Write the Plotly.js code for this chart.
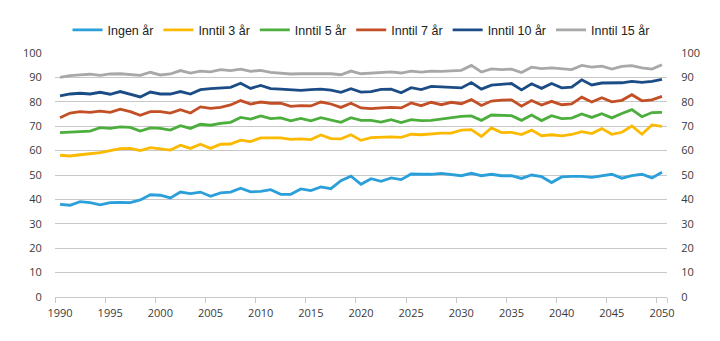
<!DOCTYPE html>
<html>
<head>
<meta charset="utf-8">
<script src="https://cdn.plot.ly/plotly-3.0.1.min.js"></script>
<style>html,body{margin:0;padding:0;background:#fff;}#chart{width:720px;height:341px;}</style>
</head>
<body>
<div id="chart"></div>
<script>
const years = [];
for (let y = 1990; y <= 2050; y++) years.push(y);

const seriesNames = ["Ingen år", "Inntil 3 år", "Inntil 5 år", "Inntil 7 år", "Inntil 10 år", "Inntil 15 år"];
const seriesColors = ["#2b9fd9", "#fbb900", "#4cae3c", "#c24f25", "#1b4c85", "#a8a8a8"];

const ingen = [38.0,37.6,39.1,38.7,37.8,38.7,38.8,38.7,39.8,41.9,
  41.7,40.6,43.0,42.4,43.0,41.3,42.7,43.0,44.6,43.1,
  43.3,44.0,42.1,42.1,44.3,43.6,45.1,44.4,47.7,49.5,
  46.2,48.5,47.4,48.8,48.1,50.4,50.3,50.3,50.7,50.1,
  49.7,50.7,49.7,50.3,49.7,49.7,48.6,50.0,49.3,46.9,
  49.2,49.4,49.4,49.0,49.7,50.3,48.7,49.7,50.3,48.8,
  51.1];
const inntil3 = [58.1,57.8,58.3,58.7,59.2,60.0,60.8,60.9,60.0,61.2,
  60.8,60.2,62.2,60.9,62.6,60.9,62.6,62.7,64.3,63.7,
  65.2,65.2,65.2,64.6,64.8,64.5,66.4,64.9,64.8,66.5,
  64.2,65.3,65.6,65.6,65.4,66.7,66.5,66.9,67.2,67.2,
  68.4,68.6,65.8,69.3,67.4,67.5,66.6,68.4,66.1,66.5,
  66.0,66.6,67.8,67.0,69.0,66.7,67.5,70.1,66.7,70.5,
  69.9];
const inntil5 = [67.4,67.6,67.9,68.0,69.4,69.1,69.7,69.5,68.0,69.3,
  69.1,68.4,70.2,69.1,70.8,70.4,71.2,71.6,73.6,72.9,
  74.2,73.1,73.4,72.2,73.2,72.2,73.5,72.6,71.6,73.5,
  72.4,72.4,71.7,72.7,71.5,72.7,72.3,72.4,73.0,73.4,
  74.0,74.2,72.4,74.6,74.3,74.3,72.4,74.6,72.3,74.3,
  73.1,73.3,75.0,73.6,75.1,73.4,75.2,76.8,73.9,75.6,
  75.7];
const inntil7 = [73.5,75.4,76.0,75.7,76.2,75.7,77.0,76.0,74.5,76.0,
  76.0,75.4,76.8,75.4,77.9,77.3,77.7,78.7,80.5,79.1,
  79.9,79.4,79.4,78.1,78.4,78.3,79.9,79.1,77.7,79.4,
  77.5,77.2,77.5,77.7,77.5,79.5,78.4,79.8,78.8,79.8,
  79.2,80.9,78.5,80.3,80.7,80.8,78.2,80.5,78.7,80.2,
  78.8,79.1,81.9,79.9,81.7,80.0,80.6,82.9,80.4,80.8,
  82.2];
const inntil10 = [82.4,83.2,83.5,83.2,83.9,83.1,84.2,83.2,82.0,84.0,
  83.2,83.2,84.2,83.2,85.0,85.4,85.5,85.9,87.6,85.5,
  86.7,85.4,85.2,85.0,84.7,85.0,85.2,84.8,83.9,85.4,
  84.0,84.2,85.1,85.2,83.7,85.8,85.0,86.3,86.0,85.9,
  85.7,87.9,85.2,86.8,87.3,87.5,84.9,87.4,85.5,87.5,
  85.7,86.0,89.0,86.9,87.7,87.7,87.8,88.4,88.0,88.4,
  89.2];
const inntil15 = [90.0,90.7,91.0,91.3,90.8,91.4,91.5,91.3,90.8,92.1,
  91.0,91.4,92.8,91.8,92.6,92.3,93.2,92.8,93.4,92.5,
  92.9,92.1,91.8,91.4,91.5,91.5,91.8,91.5,91.1,92.6,
  91.5,91.8,91.9,92.3,91.8,92.6,92.2,92.6,92.5,92.6,
  92.9,94.9,92.2,93.5,93.2,93.4,92.0,94.2,93.6,93.9,
  93.4,93.2,94.9,94.2,94.6,93.4,94.5,94.8,93.9,93.4,
  95.2];

const xTickLabels = ["1990","1995","2000","2005","2010","2015","2020","2025","2030","2035","2040","2045","2050"];
const xTickVals = xTickLabels.map(Number);
const yTicks = [0,10,20,30,40,50,60,70,80,90,100];

const seriesValues = [ingen, inntil3, inntil5, inntil7, inntil10, inntil15];
const traces = seriesValues.map((vals, i) => ({
  type: "scatter", mode: "lines", x: years, y: vals, name: seriesNames[i],
  line: {color: seriesColors[i], width: 2.8},
  xaxis: "x", yaxis: "y", hoverinfo: "skip"
}));
// helper trace so the right axis and boundary tick axis are instantiated
traces.push({type:"scatter", mode:"lines", x:[years[0]], y:[null], xaxis:"x2", yaxis:"y2", showlegend:false, hoverinfo:"skip"});

const tickFont = {family: "Open Sans, sans-serif", size: 11, color: "#3a3a3a"};
const xRange = [years[0] - 0.5, years[years.length-1] + 0.5];
const gridColor = "#c8c8c8";

const layout = {
  width: 720, height: 341,
  margin: {l: 55, r: 53, t: 53, b: 44},
  paper_bgcolor: "#fff", plot_bgcolor: "#fff",
  showlegend: true,
  legend: {orientation: "h", x: 0.5, xanchor: "center", y: 0.955, yref: "container", yanchor: "top",
    font: {family: "Liberation Sans Narrow, Arial Narrow, sans-serif", size: 12.5, color: "#222"},
    traceorder: "normal", itemwidth: 30, tracegroupgap: 0},
  xaxis: {range: xRange, tickvals: xTickVals, ticktext: xTickLabels, ticks: "outside", ticklen: 6,
    tickcolor: "rgba(0,0,0,0)", showgrid: false, zeroline: false, showline: true, linecolor: gridColor,
    linewidth: 1, tickfont: tickFont, fixedrange: true},
  xaxis2: {range: xRange, overlaying: "x", side: "bottom",
    tickvals: xTickVals.map(v => v - 0.5).concat([xRange[1]]),
    ticktext: [], showticklabels: false, ticks: "outside", ticklen: 5, tickcolor: gridColor, tickwidth: 1,
    showgrid: false, zeroline: false, showline: false, anchor: "y"},
  yaxis: {range: [0, 100], tickvals: yTicks, ticks: "outside", ticklen: 10, tickcolor: "rgba(0,0,0,0)",
    showgrid: true, gridcolor: gridColor, gridwidth: 1, zeroline: false, showline: false, tickfont: tickFont},
  yaxis2: {range: [0, 100], tickvals: yTicks, overlaying: "y", side: "right", anchor: "x",
    ticks: "outside", ticklen: 11, tickcolor: "rgba(0,0,0,0)", showgrid: false, zeroline: false,
    showline: false, tickfont: tickFont}
};

Plotly.newPlot("chart", traces, layout, {staticPlot: true, displayModeBar: false});
</script>
</body>
</html>
